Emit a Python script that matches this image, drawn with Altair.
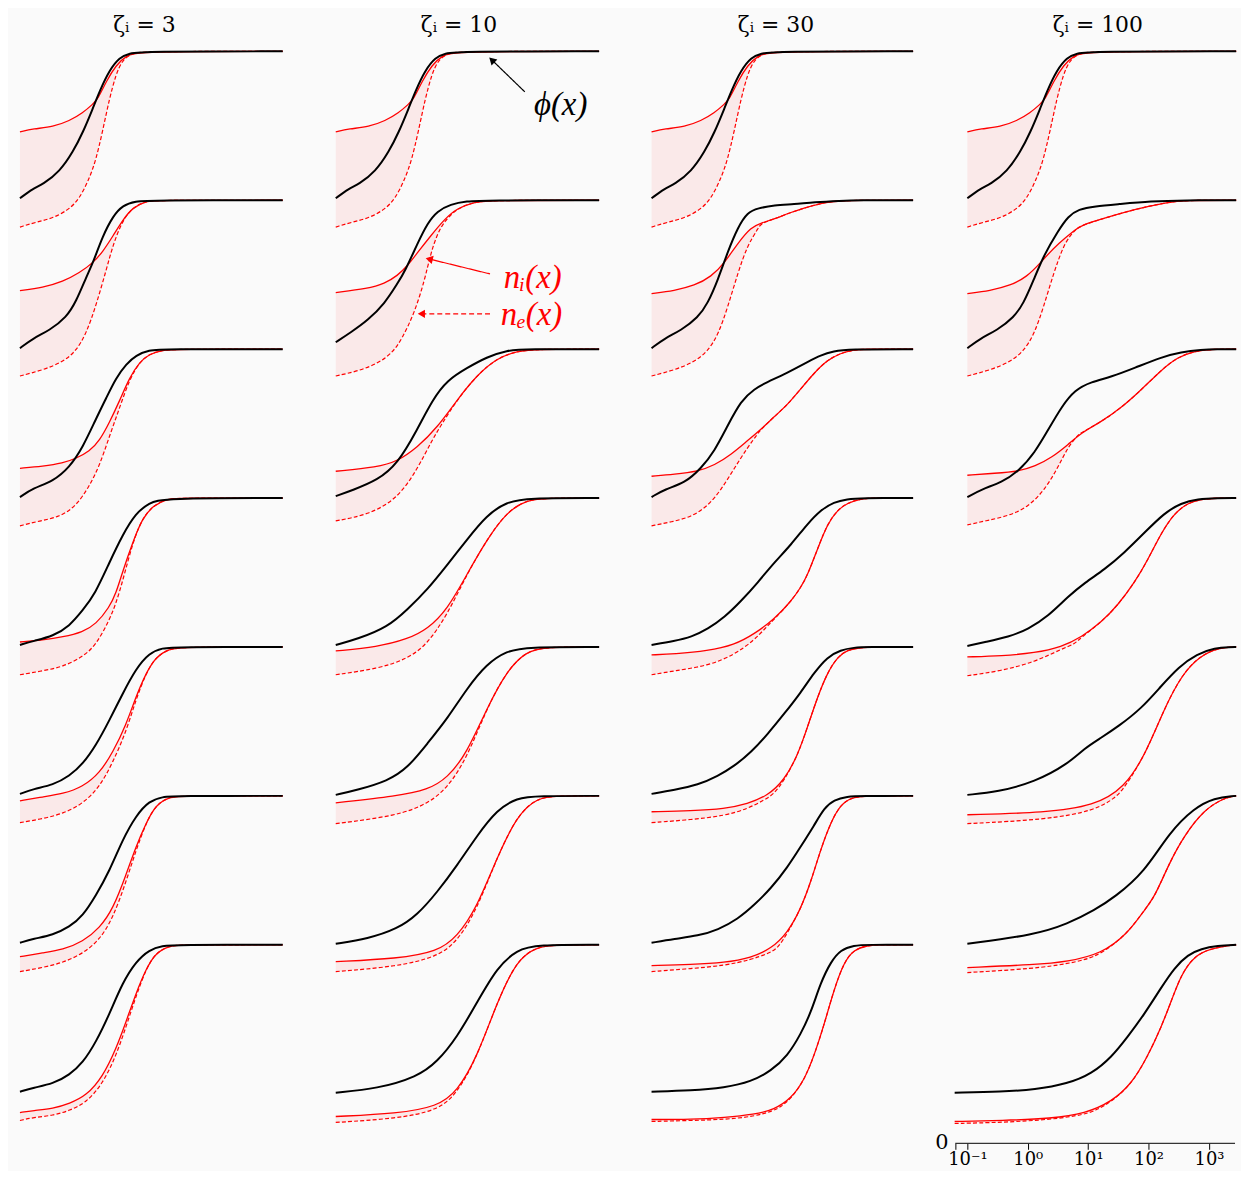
import math
import altair as alt
import pandas as pd

# ---------------- values ----------------
# each profile: list of (log10 x, value); value 1 = upstream plateau
TITLES = ["ζᵢ = 3", "ζᵢ = 10", "ζᵢ = 30", "ζᵢ = 100"]
X_END = [3.35, 3.36, 3.33, 3.45]

TOP_PHI = [(-1,0.26),(-0.78,0.31),(-0.62,0.33),(-0.34,0.395),(-0.12,0.495),(0.04,0.59),(0.21,0.715),(0.32,0.80),(0.48,0.905),(0.65,0.97),(0.81,0.99),(1.03,1.0)]
TOP_NI = [(-1,0.595),(-0.78,0.61),(-0.45,0.62),(-0.18,0.65),(0.04,0.69),(0.21,0.735),(0.29,0.76),(0.43,0.85),(0.59,0.93),(0.76,0.98),(0.98,1.0)]
TOP_NE = [(-1,0.115),(-0.73,0.14),(-0.45,0.16),(-0.18,0.205),(-0.01,0.26),(0.15,0.36),(0.26,0.455),(0.37,0.60),(0.48,0.76),(0.59,0.885),(0.70,0.96),(0.87,0.99),(1.03,1.0)]

# zeta_i = 3
PHI_Z3 = [TOP_PHI,
 [(-1,0.255),(-0.78,0.305),(-0.51,0.345),(-0.23,0.41),(-0.07,0.49),(0.10,0.615),(0.21,0.685),(0.37,0.82),(0.54,0.92),(0.70,0.975),(0.92,0.995),(1.14,1.0)],
 [(-1,0.255),(-0.78,0.30),(-0.45,0.335),(-0.18,0.405),(0.04,0.505),(0.26,0.65),(0.43,0.755),(0.59,0.855),(0.76,0.925),(0.92,0.97),(1.14,0.995),(1.36,1.0)],
 [(-1,0.26),(-0.78,0.28),(-0.45,0.305),(-0.18,0.355),(0.04,0.435),(0.24,0.515),(0.48,0.675),(0.70,0.815),(0.92,0.925),(1.14,0.975),(1.36,1.0)],
 [(-1,0.26),(-0.78,0.285),(-0.45,0.305),(-0.18,0.35),(0.04,0.41),(0.26,0.505),(0.48,0.63),(0.70,0.765),(0.92,0.89),(1.14,0.97),(1.36,0.995),(1.58,1.0)],
 [(-1,0.26),(-0.78,0.28),(-0.45,0.30),(-0.18,0.34),(0.04,0.395),(0.26,0.50),(0.48,0.62),(0.70,0.78),(0.92,0.90),(1.14,0.975),(1.36,0.995),(1.58,1.0)],
 [(-1,0.26),(-0.78,0.28),(-0.45,0.30),(-0.18,0.345),(0.04,0.405),(0.26,0.51),(0.48,0.65),(0.70,0.81),(0.92,0.915),(1.14,0.975),(1.36,0.995),(1.58,1.0)]]
NI_Z3 = [TOP_NI,
 [(-1,0.545),(-0.62,0.56),(-0.29,0.59),(-0.01,0.635),(0.21,0.685),(0.37,0.74),(0.54,0.82),(0.70,0.90),(0.87,0.965),(1.09,0.995),(1.25,1.0)],
 [(-1,0.40),(-0.62,0.41),(-0.29,0.425),(-0.07,0.45),(0.15,0.485),(0.32,0.54),(0.48,0.63),(0.65,0.74),(0.81,0.855),(0.98,0.935),(1.14,0.975),(1.36,0.995),(1.58,1.0)],
 [(-1,0.275),(-0.62,0.285),(-0.29,0.30),(0.04,0.325),(0.26,0.365),(0.48,0.45),(0.59,0.52),(0.70,0.63),(0.87,0.78),(1.03,0.90),(1.20,0.96),(1.42,0.995),(1.64,1.0)],
 [(-1,0.225),(-0.62,0.245),(-0.29,0.26),(0.04,0.295),(0.32,0.365),(0.54,0.47),(0.76,0.61),(0.92,0.75),(1.09,0.87),(1.25,0.95),(1.47,0.99),(1.69,1.0)],
 [(-1,0.19),(-0.62,0.21),(-0.29,0.225),(0.04,0.265),(0.32,0.335),(0.54,0.43),(0.76,0.605),(0.92,0.745),(1.09,0.865),(1.25,0.955),(1.47,0.995),(1.69,1.0)],
 [(-1,0.155),(-0.78,0.165),(-0.45,0.175),(-0.18,0.20),(0.10,0.24),(0.37,0.335),(0.59,0.475),(0.76,0.615),(0.92,0.755),(1.09,0.88),(1.25,0.96),(1.47,0.995),(1.69,1.0)]]
NE_Z3 = [TOP_NE,
 [(-1,0.115),(-0.62,0.145),(-0.29,0.185),(-0.07,0.24),(0.10,0.33),(0.26,0.47),(0.43,0.65),(0.54,0.775),(0.70,0.90)],
 [(-1,0.11),(-0.67,0.135),(-0.34,0.155),(-0.07,0.21),(0.15,0.31),(0.32,0.415),(0.48,0.56),(0.65,0.705),(0.81,0.845)],
 [(-1,0.11),(-0.62,0.13),(-0.29,0.15),(0.04,0.20),(0.26,0.26),(0.48,0.385),(0.59,0.47),(0.70,0.58)],
 [(-1,0.115),(-0.62,0.135),(-0.29,0.16),(0.04,0.21),(0.32,0.295),(0.54,0.42),(0.76,0.575),(0.92,0.735)],
 [(-1,0.115),(-0.62,0.135),(-0.29,0.16),(0.04,0.205),(0.32,0.275),(0.54,0.385),(0.76,0.57),(0.92,0.725)],
 [(-1,0.115),(-0.78,0.13),(-0.45,0.14),(-0.18,0.165),(0.10,0.205),(0.37,0.30),(0.59,0.44),(0.76,0.59),(0.92,0.74)]]

# zeta_i = 10
PHI_Z10 = [TOP_PHI,
 [(-1,0.285),(-0.75,0.335),(-0.47,0.395),(-0.19,0.48),(0.02,0.58),(0.15,0.645),(0.35,0.78),(0.52,0.885),(0.68,0.945),(0.90,0.98),(1.17,0.995),(1.45,1.0)],
 [(-1,0.26),(-0.72,0.29),(-0.31,0.34),(0.02,0.42),(0.35,0.595),(0.60,0.745),(0.85,0.845),(1.17,0.905),(1.50,0.96),(1.83,0.995),(2.16,1.0)],
 [(-1,0.26),(-0.64,0.29),(-0.14,0.35),(0.19,0.44),(0.52,0.54),(0.85,0.665),(1.17,0.79),(1.50,0.915),(1.83,0.98),(2.16,1.0)],
 [(-1,0.255),(-0.64,0.28),(-0.14,0.325),(0.19,0.39),(0.52,0.515),(0.85,0.64),(1.17,0.79),(1.50,0.915),(1.83,0.98),(2.16,1.0)],
 [(-1,0.255),(-0.47,0.28),(0.02,0.33),(0.35,0.40),(0.68,0.515),(1.01,0.65),(1.34,0.80),(1.67,0.93),(2.0,0.99),(2.33,1.0)],
 [(-1,0.255),(-0.31,0.275),(0.35,0.335),(0.68,0.41),(1.01,0.535),(1.34,0.71),(1.67,0.885),(2.0,0.975),(2.33,1.0)]]
NI_Z10 = [TOP_NI,
 [(-1,0.535),(-0.47,0.555),(-0.19,0.58),(0.02,0.62),(0.19,0.67),(0.35,0.735),(0.57,0.82),(0.80,0.905),(1.01,0.96),(1.29,0.99),(1.55,1.0)],
 [(-1,0.385),(-0.31,0.405),(0.02,0.435),(0.35,0.505),(0.68,0.605),(1.01,0.745),(1.34,0.87),(1.67,0.955),(2.0,0.99),(2.33,1.0)],
 [(-1,0.23),(-0.31,0.25),(0.19,0.29),(0.52,0.34),(0.85,0.44),(1.17,0.615),(1.50,0.79),(1.83,0.93),(2.16,0.99),(2.49,1.0)],
 [(-1,0.215),(0.02,0.25),(0.52,0.28),(0.85,0.34),(1.17,0.465),(1.50,0.69),(1.83,0.88),(2.16,0.98),(2.49,1.0)],
 [(-1,0.165),(0.02,0.18),(0.68,0.215),(1.01,0.29),(1.34,0.44),(1.67,0.69),(2.0,0.90),(2.33,0.99),(2.66,1.0)],
 [(-1,0.135),(0.02,0.15),(0.68,0.185),(1.01,0.26),(1.34,0.435),(1.67,0.71),(2.0,0.925),(2.33,0.99),(2.66,1.0)]]
NE_Z10 = [TOP_NE,
 [(-1,0.115),(-0.62,0.14),(-0.29,0.18),(-0.05,0.235),(0.10,0.305),(0.30,0.43),(0.47,0.595),(0.57,0.73),(0.68,0.83),(0.80,0.895)],
 [(-1,0.135),(-0.47,0.165),(0.02,0.245),(0.35,0.395),(0.60,0.545),(0.76,0.625)],
 [(-1,0.11),(-0.31,0.14),(0.19,0.19),(0.52,0.265),(0.85,0.415)],
 [(-1,0.11),(0.02,0.15),(0.52,0.21),(0.85,0.29),(1.17,0.44)],
 [(-1,0.115),(0.02,0.14),(0.68,0.19),(1.01,0.265),(1.34,0.43)],
 [(-1,0.105),(0.02,0.125),(0.68,0.165),(1.01,0.25)]]

# zeta_i = 30
PHI_Z30 = [TOP_PHI,
 [(-1,0.255),(-0.78,0.305),(-0.51,0.345),(-0.23,0.41),(-0.07,0.48),(0.10,0.60),(0.26,0.74),(0.43,0.865),(0.59,0.94),(0.76,0.96),(1.03,0.975),(1.36,0.98),(1.69,0.99),(2.13,0.997),(2.41,1.0)],
 [(-1,0.255),(-0.78,0.295),(-0.45,0.325),(-0.18,0.40),(0.04,0.485),(0.26,0.615),(0.48,0.74),(0.70,0.80),(0.92,0.835),(1.14,0.865),(1.36,0.90),(1.58,0.935),(1.80,0.97),(2.02,0.99),(2.24,1.0)],
 [(-1,0.26),(-0.62,0.28),(-0.34,0.30),(-0.07,0.34),(0.21,0.40),(0.48,0.48),(0.76,0.575),(1.03,0.675),(1.31,0.765),(1.58,0.87),(1.80,0.94),(2.02,0.98),(2.24,0.995),(2.46,1.0)],
 [(-1,0.26),(-0.62,0.28),(-0.23,0.305),(0.10,0.35),(0.37,0.40),(0.65,0.47),(0.92,0.56),(1.20,0.665),(1.47,0.77),(1.69,0.87),(1.91,0.95),(2.13,0.985),(2.35,0.997),(2.57,1.0)],
 [(-1,0.26),(-0.62,0.28),(-0.23,0.295),(0.10,0.325),(0.43,0.38),(0.70,0.45),(0.98,0.535),(1.25,0.64),(1.47,0.745),(1.69,0.85),(1.86,0.94),(2.02,0.98),(2.24,0.997),(2.46,1.0)],
 [(-1,0.26),(-0.34,0.265),(0.21,0.28),(0.65,0.31),(0.98,0.365),(1.25,0.44),(1.47,0.55),(1.64,0.66),(1.80,0.81),(1.97,0.915),(2.13,0.975),(2.35,0.997),(2.57,1.0)]]
NI_Z30 = [TOP_NI,
 [(-1,0.53),(-0.62,0.545),(-0.29,0.57),(-0.01,0.615),(0.21,0.685),(0.43,0.785),(0.65,0.865),(0.81,0.885),(1.03,0.905),(1.31,0.94),(1.58,0.965),(1.86,0.99),(2.13,0.997),(2.41,1.0)],
 [(-1,0.36),(-0.62,0.37),(-0.23,0.385),(0.04,0.415),(0.32,0.47),(0.59,0.54),(0.81,0.595),(1.03,0.66),(1.25,0.72),(1.47,0.80),(1.69,0.88),(1.91,0.945),(2.13,0.98),(2.35,0.997),(2.57,1.0)],
 [(-1,0.21),(-0.62,0.215),(-0.07,0.23),(0.37,0.26),(0.70,0.315),(1.03,0.39),(1.31,0.48),(1.47,0.55),(1.58,0.61),(1.75,0.745),(1.91,0.87),(2.08,0.94),(2.24,0.975),(2.46,0.997),(2.68,1.0)],
 [(-1,0.17),(-0.34,0.175),(0.21,0.185),(0.59,0.21),(0.92,0.25),(1.20,0.33),(1.42,0.455),(1.58,0.595),(1.75,0.75),(1.91,0.87),(2.08,0.95),(2.24,0.985),(2.46,0.997),(2.68,1.0)],
 [(-1,0.145),(-0.34,0.15),(0.21,0.16),(0.65,0.185),(0.98,0.23),(1.25,0.31),(1.47,0.43),(1.64,0.57),(1.80,0.73),(1.97,0.87),(2.13,0.955),(2.30,0.99),(2.52,1.0)],
 [(-1,0.12),(-0.34,0.12),(0.21,0.13),(0.70,0.145),(1.03,0.17),(1.31,0.225),(1.53,0.32),(1.69,0.44),(1.86,0.60),(2.02,0.775),(2.19,0.915),(2.35,0.975),(2.57,0.997),(2.79,1.0)]]
NE_Z30 = [TOP_NE,
 [(-1,0.115),(-0.62,0.145),(-0.29,0.185),(-0.07,0.24),(0.10,0.32),(0.26,0.46),(0.43,0.635),(0.59,0.775),(0.76,0.855)],
 [(-1,0.11),(-0.67,0.13),(-0.34,0.155),(-0.07,0.21),(0.15,0.29),(0.37,0.40),(0.59,0.505),(0.76,0.575)],
 [(-1,0.11),(-0.62,0.13),(-0.07,0.155),(0.37,0.21),(0.70,0.285),(0.87,0.34)],
 [(-1,0.115),(-0.34,0.13),(0.21,0.15),(0.59,0.185),(0.87,0.23),(1.03,0.26)],
 [(-1,0.115),(-0.34,0.13),(0.21,0.145),(0.65,0.175),(0.92,0.205),(1.09,0.23)],
 [(-1,0.11),(-0.34,0.115),(0.21,0.12),(0.70,0.135),(1.03,0.165),(1.14,0.185)]]

# zeta_i = 100
PHI_Z100 = [TOP_PHI,
 [(-1,0.255),(-0.78,0.305),(-0.51,0.345),(-0.23,0.41),(-0.07,0.48),(0.10,0.60),(0.26,0.72),(0.50,0.845),(0.67,0.92),(0.84,0.955),(1.11,0.97),(1.49,0.98),(2.04,0.995),(2.59,1.0)],
 [(-1,0.255),(-0.76,0.295),(-0.43,0.33),(-0.15,0.385),(0.12,0.48),(0.34,0.595),(0.56,0.71),(0.78,0.795),(1.05,0.835),(1.38,0.86),(1.77,0.905),(2.21,0.96),(2.54,0.985),(2.87,0.997),(3.14,1.0)],
 [(-1,0.255),(-0.70,0.275),(-0.32,0.30),(0.01,0.34),(0.34,0.405),(0.67,0.505),(0.95,0.575),(1.27,0.64),(1.60,0.725),(1.93,0.825),(2.26,0.925),(2.54,0.975),(2.81,0.995),(3.14,1.0)],
 [(-1,0.255),(-0.5,0.27),(0.12,0.32),(0.66,0.41),(0.94,0.49),(1.2,0.54),(1.5,0.60),(1.88,0.69),(2.2,0.80),(2.5,0.90),(2.8,0.965),(3.1,0.995),(3.35,1.0)],
 [(-1,0.255),(0.12,0.30),(0.66,0.355),(1.11,0.425),(1.44,0.49),(1.93,0.615),(2.34,0.815),(2.76,0.94),(3.09,0.99),(3.42,1.0)],
 [(-1.21,0.255),(-0.43,0.26),(0.12,0.27),(0.66,0.30),(1.06,0.35),(1.39,0.435),(1.65,0.535),(1.93,0.65),(2.21,0.785),(2.43,0.885),(2.65,0.95),(2.87,0.98),(3.14,0.995),(3.45,1.0)]]
NI_Z100 = [TOP_NI,
 [(-1,0.53),(-0.62,0.545),(-0.29,0.57),(-0.01,0.615),(0.21,0.685),(0.43,0.76),(0.62,0.81),(0.78,0.85),(0.90,0.875),(1.22,0.905),(1.77,0.955),(2.32,0.99),(2.59,1.0)],
 [(-1,0.365),(-0.54,0.375),(-0.15,0.385),(0.12,0.41),(0.40,0.455),(0.67,0.52),(0.89,0.58),(1.22,0.635),(1.55,0.705),(1.88,0.795),(2.21,0.895),(2.48,0.96),(2.76,0.99),(3.03,1.0)],
 [(-1,0.20),(-0.43,0.205),(0.12,0.22),(0.56,0.25),(0.89,0.30),(1.22,0.375),(1.49,0.46),(1.77,0.575),(1.99,0.69),(2.21,0.825),(2.43,0.925),(2.65,0.975),(2.87,0.995),(3.14,1.0)],
 [(-1,0.155),(0.3,0.165),(1.1,0.20),(1.6,0.29),(1.95,0.46),(2.26,0.69),(2.55,0.86),(2.85,0.955),(3.15,0.995),(3.4,1.0)],
 [(-1,0.135),(0.12,0.15),(0.66,0.165),(1.22,0.205),(1.65,0.305),(1.93,0.425),(2.1,0.49),(2.34,0.66),(2.59,0.80),(2.92,0.93),(3.25,0.99),(3.45,1.0)],
 [(-1.21,0.11),(-0.43,0.115),(0.40,0.125),(0.95,0.15),(1.39,0.21),(1.72,0.30),(1.98,0.435),(2.21,0.585),(2.38,0.72),(2.54,0.85),(2.76,0.945),(3.03,0.98),(3.3,0.995),(3.45,1.0)]]
NE_Z100 = [TOP_NE,
 [(-1,0.115),(-0.62,0.145),(-0.29,0.185),(-0.07,0.24),(0.10,0.32),(0.26,0.46),(0.43,0.635),(0.59,0.77),(0.70,0.82)],
 [(-1,0.115),(-0.70,0.135),(-0.32,0.16),(0.01,0.205),(0.29,0.295),(0.51,0.41),(0.67,0.51),(0.84,0.57)],
 [(-1,0.105),(-0.43,0.13),(0.12,0.175),(0.56,0.24),(0.78,0.265)],
 [(-1,0.11),(0.3,0.13),(1.1,0.175),(1.45,0.24)],
 [(-1,0.11),(0.12,0.13),(0.66,0.155),(0.95,0.175)],
 [(-1.21,0.10),(-0.43,0.105),(0.40,0.12),(0.95,0.145),(1.15,0.17)]]

PHI = [PHI_Z3, PHI_Z10, PHI_Z30, PHI_Z100]
NI = [NI_Z3, NI_Z10, NI_Z30, NI_Z100]
NE = [NE_Z3, NE_Z10, NE_Z30, NE_Z100]

# ---------------- layout constants ----------------
S = 5.228        # horizontal shift between columns (decades)
STEP = 0.75      # vertical shift between stacked profiles
PXU = 60.7       # px per decade
PYU = 199.5      # px per unit value
W, H = 1233, 1138
GMIN = -12 / PXU
GMAX = GMIN + W / PXU
YMAX = H / PYU


def gpos(c, u):
    return c * S + u + 1


def closed(pts, xe):
    pts = list(pts)
    if pts[-1][0] < xe:
        pts.append((xe, 1.0))
    return pts


phi_rows, ni_rows, ne_rows, fill_rows = [], [], [], []
for c in range(4):
    for r in range(7):
        off = (6 - r) * STEP
        key = f"{c}-{r}"
        phi = closed(PHI[c][r], X_END[c])
        ni = closed(NI[c][r], X_END[c])
        ne_read = NE[c][r]
        ne = list(ne_read) + [p for p in ni if p[0] > ne_read[-1][0]]
        for i, (u, v) in enumerate(phi):
            phi_rows.append({"key": key, "o": i, "g": gpos(c, u), "Y": off + v})
        for i, (u, v) in enumerate(ni):
            ni_rows.append({"key": key, "o": i, "g": gpos(c, u), "Y": off + v})
        for i, (u, v) in enumerate(ne):
            ne_rows.append({"key": key, "o": i, "g": gpos(c, u), "Y": off + v})
        poly = ni + ne[::-1]
        for i, (u, v) in enumerate(poly):
            fill_rows.append({"key": key, "o": i, "g": gpos(c, u), "Y": off + v})

df_phi = pd.DataFrame(phi_rows)
df_ni = pd.DataFrame(ni_rows)
df_ne = pd.DataFrame(ne_rows)
df_fill = pd.DataFrame(fill_rows)

FONT = "DejaVu Serif"
IFONT = "Liberation Serif"
xscale = alt.Scale(domain=[GMIN, GMAX], nice=False, zero=False)
yscale = alt.Scale(domain=[0, YMAX], nice=False, zero=False)
TICK_U = [-1.2, -1, 0, 1, 2, 3]
tick_vals = [gpos(3, u) for u in TICK_U]
label_expr = ("datum.value < %.4f ? '' : '10' + ['⁻¹','⁰','¹','²','³'][round(datum.value - %.4f)]"
              % (gpos(3, -1.1), gpos(3, -1)))
xaxis = alt.Axis(values=tick_vals, labelExpr=label_expr, domain=False, grid=False,
                 ticks=True, tickSize=6, tickColor="black", tickWidth=1,
                 labelFont=FONT, labelFontSize=18, labelColor="black",
                 labelPadding=1, labelOverlap=False, title=None)


def X(f="g"):
    return alt.X(f"{f}:Q", scale=xscale, axis=xaxis)


def Y(f="Y"):
    return alt.Y(f"{f}:Q", scale=yscale, axis=None)


SMOOTH = "basis"
fill = alt.Chart(df_fill).mark_line(filled=True, color="#ff0000", fillOpacity=0.065, interpolate=SMOOTH).encode(
    x=X(), y=Y(), detail="key:N", order="o:Q")
ne_l = alt.Chart(df_ne).mark_line(color="#ff0000", strokeWidth=1.2, strokeDash=[4, 2.2], interpolate=SMOOTH).encode(
    x=X(), y=Y(), detail="key:N", order="o:Q")
ni_l = alt.Chart(df_ni).mark_line(color="#ff0000", strokeWidth=1.3, interpolate=SMOOTH).encode(
    x=X(), y=Y(), detail="key:N", order="o:Q")
phi_l = alt.Chart(df_phi).mark_line(color="black", strokeWidth=2.0, interpolate=SMOOTH).encode(
    x=X(), y=Y(), detail="key:N", order="o:Q")

# titles
df_t = pd.DataFrame({"g": [gpos(c, u) for c, u in zip(range(4), [1.06, 1.04, 1.06, 1.16])],
                     "Y": [5.597] * 4, "t": TITLES})
titles = alt.Chart(df_t).mark_text(font=FONT, fontSize=22, color="black", baseline="alphabetic", align="center").encode(
    x=X(), y=Y(), text="t:N")

# annotations in the zeta=10 column
ARROW_TAIL = [(2.13, 5.296), (1.554, 4.379), (1.554, 4.178)]
ARROW_TIP = [(1.537, 5.471), (0.483, 4.459), (0.351, 4.178)]
ARROW_COLOR = ["black", "#ff0000", "#ff0000"]
ARROW_DASH = [[1, 0], [1, 0], [5, 3]]
ANN_TEXT = ["ϕ(x)", "nᵢ(x)", "nₑ(x)"]
ANN_POS = [(2.723, 5.23), (2.26, 4.358), (2.24, 4.173)]

layers = [fill, ne_l, ni_l, phi_l, titles]
for i in range(3):
    (tu, tY), (hu, hY) = ARROW_TAIL[i], ARROW_TIP[i]
    dxp = (hu - tu) * PXU
    dyp = -(hY - tY) * PYU
    ang = math.degrees(math.atan2(dyp, dxp)) % 360
    L = math.hypot(dxp, dyp)
    cx, cy = dxp / L, dyp / L
    bu = hu - 4 * cx / PXU
    bY = hY + 4 * cy / PYU
    eu = hu - 6 * cx / PXU
    eY = hY + 6 * cy / PYU
    dl = pd.DataFrame({"g": [gpos(1, tu), gpos(1, eu)], "Y": [tY, eY], "o": [0, 1]})
    layers.append(alt.Chart(dl).mark_line(color=ARROW_COLOR[i], strokeWidth=1.2, strokeDash=ARROW_DASH[i]).encode(
        x=X(), y=Y(), order="o:Q"))
    dh = pd.DataFrame({"g": [gpos(1, bu)], "Y": [bY], "a": [ang]})
    layers.append(alt.Chart(dh).mark_point(shape="triangle-right", filled=True, size=70, opacity=1,
                                           color=ARROW_COLOR[i]).encode(
        x=X(), y=Y(), angle=alt.Angle("a:Q", scale=None)))
    au, aY = ANN_POS[i]
    dt = pd.DataFrame({"g": [gpos(1, au)], "Y": [aY], "t": [ANN_TEXT[i]]})
    layers.append(alt.Chart(dt).mark_text(font=IFONT, fontSize=33, fontStyle="italic", color=ARROW_COLOR[i],
                                          align="center", baseline="middle").encode(
        x=X(), y=Y(), text="t:N"))

# axis line of the bottom-right panel and the "0" label
dax = pd.DataFrame({"g": [gpos(3, -1.2)], "g2": [GMAX], "Y": [0.0]})
layers.append(alt.Chart(dax).mark_rule(color="black", strokeWidth=1).encode(
    x=X(), x2="g2:Q", y=Y()))
dz = pd.DataFrame({"g": [gpos(3, -1.42)], "Y": [0.0], "t": ["0"]})
layers.append(alt.Chart(dz).mark_text(font=FONT, fontSize=21, color="black", align="center", baseline="middle").encode(
    x=X(), y=Y(), text="t:N"))

chart = alt.layer(*layers).properties(width=W, height=H, padding=0, background="#fafafa").configure_view(
    stroke=None)

chart.save("out.html", embed_options={"renderer": "svg", "actions": False})
